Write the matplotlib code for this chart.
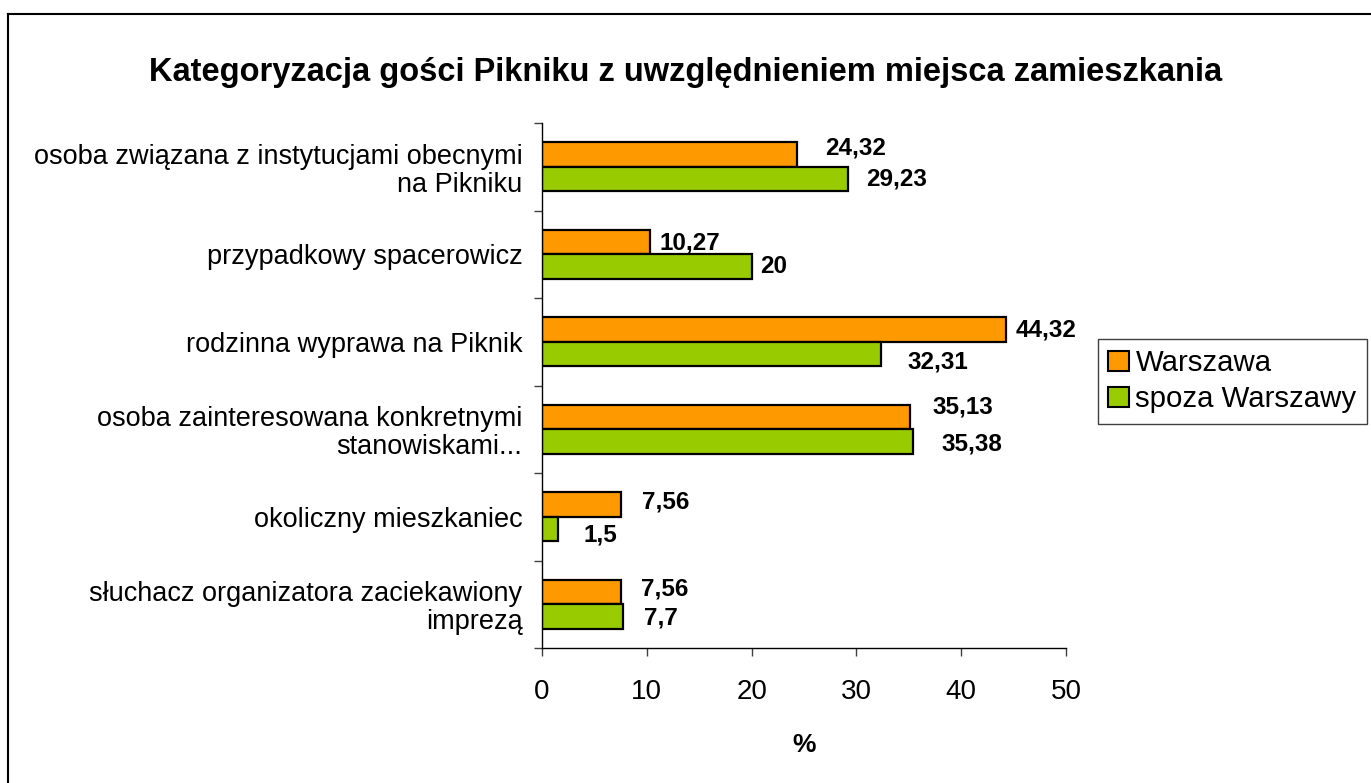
import numpy as np
import matplotlib.pyplot as plt
from matplotlib.lines import Line2D

plt.rcParams['font.family'] = ['Liberation Sans', 'DejaVu Sans']

categories = [
    "osoba związana z instytucjami obecnymi\nna Pikniku",
    "przypadkowy spacerowicz",
    "rodzinna wyprawa na Piknik",
    "osoba zainteresowana konkretnymi\nstanowiskami...",
    "okoliczny mieszkaniec",
    "słuchacz organizatora zaciekawiony\nimprezą",
]
warszawa = [24.32, 10.27, 44.32, 35.13, 7.56, 7.56]
spoza = [29.23, 20, 32.31, 35.38, 1.5, 7.7]
series_names = ["Warszawa", "spoza Warszawy"]
title = "Kategoryzacja gości Pikniku z uwzględnieniem miejsca zamieszkania"

# label nudges in pixels (dx, dy), as the labels sit in the original
w_offsets = [(28, -6), (10, 1), (9, 0), (22, -10), (21, -2), (20, -3)]
s_offsets = [(18, 0), (9, 0), (27, 8), (29, 3), (26, 6), (21, 1)]

orange = "#FF9900"
green = "#99CC00"

W, H = 1371, 783
fig = plt.figure(figsize=(W / 100, H / 100), dpi=100)
ax = fig.add_axes([542 / W, 1 - 648 / H, (1066 - 542) / W, (648 - 123) / H])

y = np.arange(len(categories))
bh = 0.28
ax.barh(y - bh / 2, warszawa, height=bh, color=orange, edgecolor="black", linewidth=1.6)
ax.barh(y + bh / 2, spoza, height=bh, color=green, edgecolor="black", linewidth=1.6)


def fmt(v):
    return f"{v:g}".replace(".", ",")


px = 0.72  # points per pixel at dpi 100
for i in range(len(categories)):
    for vals, offs, yy in ((warszawa, w_offsets, y[i] - bh / 2), (spoza, s_offsets, y[i] + bh / 2)):
        dx, dy = offs[i]
        ax.annotate(fmt(vals[i]), (vals[i], yy), xytext=(dx * px, -dy * px),
                    textcoords="offset points", ha="left", va="center",
                    fontsize=17.5, fontweight="bold")

ax.set_xlim(0, 50)
ax.set_ylim(len(categories) - 0.5, -0.5)
ax.set_xticks(np.arange(0, 51, 10))
ax.set_yticks(y)
ax.set_yticklabels(categories, fontsize=19.5, ha="right", linespacing=1.1)
ax.set_yticks(np.arange(-0.5, len(categories), 1), minor=True)
ax.tick_params(axis="y", which="major", length=0, pad=14)
ax.tick_params(axis="y", which="minor", length=6, width=1, direction="out", color="#404040")
ax.tick_params(axis="x", length=6, width=1, direction="out", labelsize=20, pad=16, color="#404040")
for s in ("top", "right"):
    ax.spines[s].set_visible(False)
ax.spines["left"].set_linewidth(1)
ax.spines["bottom"].set_linewidth(1)

fig.text(0.5, 1 - 72 / H, title, ha="center", va="center", fontsize=23.5, fontweight="bold")
fig.text(804 / W, 1 - 745 / H, "%", ha="center", va="center", fontsize=19, fontweight="bold")

handles = [plt.Rectangle((0, 0), 1, 1, facecolor=c, edgecolor="black", linewidth=1.5) for c in (orange, green)]
fig.legend(handles, series_names, loc="upper left", bbox_to_anchor=(1098 / W, 1 - 339 / H),
           borderaxespad=0, fontsize=21.2, frameon=True, fancybox=False, edgecolor="#404040",
           handlelength=0.7, handleheight=0.65, handletextpad=0.22, borderpad=0.35,
           labelspacing=0.27, framealpha=1)

# chart frame (only left and top edges fall inside the picture)
fig.add_artist(Line2D([8 / W, 8 / W], [0, 1 - 14 / H], color="black", linewidth=1.5, transform=fig.transFigure))
fig.add_artist(Line2D([8 / W, 1], [1 - 14 / H, 1 - 14 / H], color="black", linewidth=1.5, transform=fig.transFigure))

fig.savefig("out.png", dpi=100)
